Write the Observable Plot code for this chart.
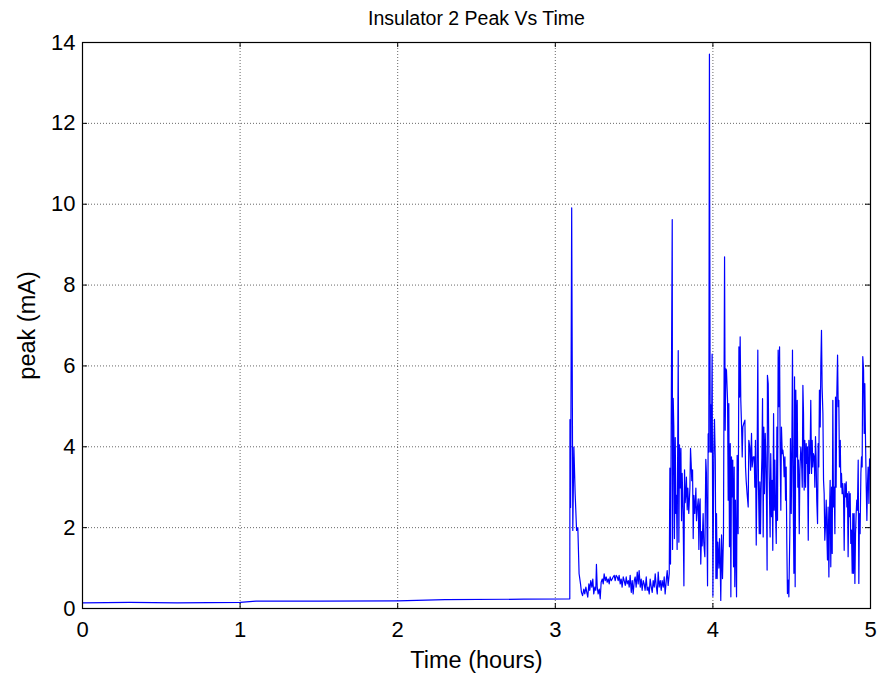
<!DOCTYPE html>
<html>
<head>
<meta charset="utf-8">
<script src="https://cdn.jsdelivr.net/npm/d3@7"></script>
<script src="https://cdn.jsdelivr.net/npm/@observablehq/plot@0.6"></script>
<style>
  html, body { margin: 0; padding: 0; background: #fff; }
</style>
</head>
<body>
<div id="chart"></div>
<script>
const titleText = "Insulator 2 Peak Vs Time";
const xLabel = "Time (hours)";
const yLabel = "peak (mA)";
const xTicks = [0, 1, 2, 3, 4, 5];
const yTicks = [0, 2, 4, 6, 8, 10, 12, 14];

// [time (hours), peak (mA)]
const baseline = [
  [0.0, 0.14], [0.3, 0.15], [0.6, 0.14], [1.0, 0.15], [1.1, 0.18], [1.5, 0.18],
  [2.0, 0.19], [2.3, 0.22], [2.8, 0.23], [3.092, 0.24]
];
const firstBurst = [
  [3.093, 4.67], [3.097, 2.5], [3.104, 9.91], [3.111, 1.93], [3.118, 3.99], [3.126, 2.84],
  [3.135, 1.93], [3.143, 2.0], [3.151, 0.86], [3.160, 0.61]
];
const quietNoise = [
  [3.166, 0.40], [3.173, 0.32], [3.181, 0.48], [3.187, 0.36], [3.194, 0.53], [3.200, 0.40],
  [3.206, 0.28], [3.213, 0.61], [3.219, 0.45], [3.225, 0.69], [3.232, 0.53], [3.238, 0.73],
  [3.244, 0.36], [3.251, 0.53], [3.257, 0.45], [3.261, 1.09], [3.266, 0.53], [3.272, 0.36],
  [3.279, 0.48], [3.285, 0.24], [3.291, 0.65], [3.298, 0.73], [3.304, 0.61], [3.310, 0.86],
  [3.317, 0.69], [3.323, 0.78], [3.329, 0.65], [3.336, 0.73], [3.342, 0.61], [3.348, 0.78],
  [3.355, 0.69], [3.361, 0.73], [3.367, 0.78], [3.374, 0.82], [3.380, 0.69], [3.386, 0.82],
  [3.393, 0.78], [3.399, 0.69], [3.405, 0.82], [3.412, 0.61], [3.418, 0.73], [3.424, 0.53],
  [3.431, 0.78], [3.437, 0.69], [3.444, 0.57], [3.450, 0.78], [3.456, 0.61], [3.463, 0.69],
  [3.469, 0.53], [3.475, 0.82], [3.482, 0.40], [3.488, 0.69], [3.494, 0.36], [3.501, 0.69],
  [3.507, 0.78], [3.513, 0.53], [3.520, 0.90], [3.526, 0.61], [3.532, 0.94], [3.539, 0.53],
  [3.545, 0.73], [3.551, 0.45], [3.558, 0.69], [3.564, 0.61], [3.570, 0.45], [3.577, 0.78],
  [3.583, 0.45], [3.589, 0.53], [3.596, 0.36], [3.602, 0.73], [3.609, 0.53], [3.615, 0.40],
  [3.621, 0.69], [3.628, 0.53], [3.634, 0.86], [3.640, 0.57], [3.647, 0.36], [3.653, 0.90],
  [3.659, 0.53], [3.666, 0.69], [3.672, 0.45], [3.678, 0.69], [3.685, 0.53], [3.691, 0.78],
  [3.697, 0.36], [3.704, 0.69], [3.710, 0.94], [3.716, 0.57], [3.723, 0.86]
];
const activeA = [
  [3.727, 3.47], [3.731, 1.10], [3.742, 9.62], [3.744, 1.46], [3.748, 5.20], [3.752, 4.50],
  [3.756, 1.73], [3.761, 4.23], [3.765, 2.35], [3.769, 2.80], [3.773, 1.46], [3.780, 6.38],
  [3.784, 1.64], [3.788, 4.05], [3.792, 2.98], [3.797, 3.96], [3.801, 2.17], [3.805, 3.34],
  [3.811, 2.35], [3.816, 0.56], [3.820, 3.43], [3.824, 2.62], [3.828, 2.80], [3.832, 3.25],
  [3.837, 2.44], [3.841, 2.98], [3.847, 2.35], [3.854, 2.98], [3.858, 3.96], [3.862, 3.60],
  [3.866, 3.16], [3.871, 3.43], [3.875, 1.73], [3.879, 2.80], [3.885, 2.35], [3.892, 2.98],
  [3.896, 2.17], [3.900, 2.44], [3.907, 2.71], [3.911, 1.46], [3.915, 2.53], [3.919, 2.71],
  [3.923, 1.10], [3.928, 1.90], [3.932, 1.55], [3.938, 2.35], [3.942, 1.64], [3.949, 1.28],
  [3.955, 3.69], [3.959, 3.34], [3.966, 0.56], [3.970, 4.32], [3.974, 3.87], [3.978, 13.71],
  [3.983, 3.87], [3.987, 5.04], [3.991, 3.87], [3.995, 6.29], [4.000, 0.30], [4.006, 3.96],
  [4.010, 4.68], [4.015, 3.69], [4.019, 0.74], [4.023, 2.35], [4.027, 0.74], [4.031, 1.64],
  [4.038, 1.00], [4.042, 1.73], [4.046, 1.19], [4.050, 0.20], [4.055, 1.82], [4.061, 0.74],
  [4.067, 1.82], [4.074, 8.70], [4.078, 4.41], [4.082, 5.93]
];
const activeB = [
  [4.086, 5.90], [4.093, 5.15], [4.097, 2.68], [4.101, 5.07], [4.105, 1.53], [4.110, 4.08],
  [4.114, 0.29], [4.118, 3.75], [4.122, 2.76], [4.126, 3.67], [4.131, 1.03], [4.135, 3.50],
  [4.139, 0.54], [4.143, 2.68], [4.150, 0.29], [4.154, 3.79], [4.160, 1.85], [4.165, 6.47],
  [4.169, 5.23], [4.173, 6.72], [4.177, 5.15], [4.182, 4.49], [4.186, 3.75], [4.190, 4.49],
  [4.196, 4.58], [4.203, 4.66], [4.207, 3.50], [4.211, 3.17], [4.217, 2.84], [4.224, 2.51],
  [4.228, 4.16], [4.234, 4.00], [4.239, 3.42], [4.245, 4.33], [4.249, 3.50], [4.256, 3.75],
  [4.262, 3.75], [4.266, 3.00], [4.270, 4.16], [4.275, 1.57], [4.281, 3.92], [4.285, 6.39],
  [4.289, 3.09], [4.294, 1.85], [4.298, 3.13], [4.302, 1.85], [4.306, 2.93], [4.311, 3.75],
  [4.315, 5.19], [4.319, 1.77], [4.323, 4.49], [4.327, 2.84], [4.332, 4.33], [4.336, 3.75],
  [4.340, 2.68], [4.344, 0.95], [4.346, 5.77], [4.351, 5.56], [4.355, 3.83], [4.359, 2.84],
  [4.363, 1.77], [4.367, 3.83], [4.372, 2.27], [4.376, 3.17], [4.380, 1.44], [4.385, 4.82],
  [4.389, 2.43], [4.393, 3.67], [4.397, 2.51], [4.402, 1.61], [4.406, 4.49], [4.410, 2.18],
  [4.414, 6.39], [4.418, 4.99], [4.423, 6.47], [4.427, 3.83], [4.431, 2.43], [4.435, 4.49],
  [4.440, 3.83], [4.444, 3.92], [4.448, 3.75], [4.452, 3.26], [4.457, 3.75], [4.461, 2.68],
  [4.465, 3.50], [4.469, 1.61], [4.473, 0.37], [4.478, 0.70], [4.482, 0.29], [4.488, 1.85],
  [4.492, 4.20], [4.497, 2.35], [4.501, 4.00], [4.505, 6.39], [4.509, 3.00], [4.514, 0.87],
  [4.518, 5.73], [4.522, 0.54], [4.526, 5.40], [4.530, 3.75], [4.535, 5.15], [4.539, 3.00],
  [4.543, 3.67], [4.548, 1.85], [4.552, 3.42]
];
const activeC = [
  [4.558, 4.00], [4.562, 3.75], [4.567, 3.00], [4.571, 5.52], [4.575, 4.82], [4.579, 2.93],
  [4.583, 4.16], [4.588, 3.00], [4.592, 4.08], [4.596, 3.59], [4.600, 4.00], [4.605, 1.69],
  [4.609, 4.16], [4.613, 3.34], [4.617, 3.83], [4.621, 5.15], [4.626, 3.34], [4.630, 4.16],
  [4.634, 3.50], [4.638, 3.83], [4.643, 3.75], [4.647, 3.00], [4.651, 4.25], [4.655, 3.67],
  [4.659, 2.68], [4.664, 2.10], [4.668, 4.08], [4.672, 3.50], [4.676, 5.40], [4.681, 4.49],
  [4.685, 6.06], [4.689, 6.88], [4.693, 5.48], [4.698, 4.82], [4.702, 3.17], [4.706, 2.84],
  [4.710, 1.69], [4.714, 2.02], [4.719, 2.68], [4.723, 1.85], [4.727, 1.20], [4.731, 2.51],
  [4.736, 0.78], [4.740, 2.35], [4.744, 3.17], [4.748, 1.03], [4.753, 3.00], [4.757, 1.36],
  [4.761, 5.15], [4.765, 2.51], [4.770, 3.00], [4.774, 1.85], [4.778, 5.23], [4.782, 3.00],
  [4.786, 5.23], [4.791, 6.27], [4.795, 4.99], [4.799, 5.15], [4.803, 3.50], [4.808, 4.16],
  [4.812, 3.00], [4.816, 3.34], [4.820, 2.84], [4.824, 3.09], [4.829, 2.76], [4.833, 1.44],
  [4.837, 3.09], [4.841, 2.76], [4.846, 3.13], [4.850, 2.51], [4.854, 2.84], [4.858, 1.28],
  [4.863, 2.89], [4.867, 2.27], [4.871, 2.84], [4.875, 1.61], [4.879, 1.94], [4.884, 0.87],
  [4.888, 2.35], [4.892, 0.87], [4.896, 2.35], [4.901, 0.62], [4.905, 1.85], [4.909, 2.35],
  [4.913, 2.68], [4.917, 2.43], [4.922, 3.67], [4.926, 0.62], [4.930, 2.35], [4.934, 1.85],
  [4.939, 3.34], [4.943, 3.75], [4.947, 3.50], [4.951, 6.23], [4.956, 5.90], [4.960, 4.33],
  [4.964, 5.56], [4.968, 4.25], [4.973, 3.00], [4.977, 2.18], [4.981, 3.09], [4.985, 3.50],
  [4.990, 2.60], [4.994, 3.70]
];

const series = [...baseline, ...firstBurst, ...quietNoise, ...activeA, ...activeB, ...activeC]
  .map(([t, v]) => ({t, v}));

const W = 877, H = 673;
const mL = 82, mR = 7, mT = 42, mB = 65;
const innerH = H - mT - mB;
const innerW = W - mL - mR;
const tick = 5;
const font = "'Liberation Sans', Arial, Helvetica, sans-serif";

const chart = Plot.plot({
  width: W,
  height: H,
  marginLeft: mL,
  marginRight: mR,
  marginTop: mT,
  marginBottom: mB,
  style: {fontFamily: font, fontSize: "22px", color: "#000", background: "#fff", overflow: "visible"},
  x: {domain: [0, 5]},
  y: {domain: [0, 14]},
  marks: [
    Plot.gridX(xTicks.slice(1, -1), {stroke: "#000", strokeOpacity: 0.6, strokeDasharray: "1,2"}),
    Plot.gridY(yTicks.slice(1, -1), {stroke: "#000", strokeOpacity: 0.6, strokeDasharray: "1,2"}),
    Plot.line(series, {x: "t", y: "v", stroke: "#0000ff", strokeWidth: 1.2}),
    // inward ticks on all four sides
    Plot.tickX(xTicks, {x: d => d, insetTop: innerH - tick, stroke: "#000"}),
    Plot.tickX(xTicks, {x: d => d, insetBottom: innerH - tick, stroke: "#000"}),
    Plot.tickY(yTicks, {y: d => d, insetRight: innerW - tick, stroke: "#000"}),
    Plot.tickY(yTicks, {y: d => d, insetLeft: innerW - tick, stroke: "#000"}),
    Plot.frame({stroke: "#000", strokeWidth: 1.2}),
    Plot.axisX(xTicks, {anchor: "bottom", tickSize: 0, tickPadding: 13, label: null, fontSize: 22, tickFormat: d3.format("d")}),
    Plot.axisY(yTicks, {anchor: "left", tickSize: 0, tickPadding: 7, label: null, fontSize: 22, tickFormat: d3.format("d")}),
    Plot.text([titleText], {frameAnchor: "top", dy: -24, lineAnchor: "middle", textAnchor: "middle", fontSize: 19.5, fill: "#000"}),
    Plot.text([xLabel], {frameAnchor: "bottom", dy: 52, lineAnchor: "middle", textAnchor: "middle", fontSize: 23.5, fill: "#000"}),
    Plot.text([yLabel], {frameAnchor: "left", dx: -55, rotate: -90, lineAnchor: "middle", textAnchor: "middle", fontSize: 23.5, fill: "#000"})
  ]
});
document.getElementById("chart").appendChild(chart);
</script>
</body>
</html>
